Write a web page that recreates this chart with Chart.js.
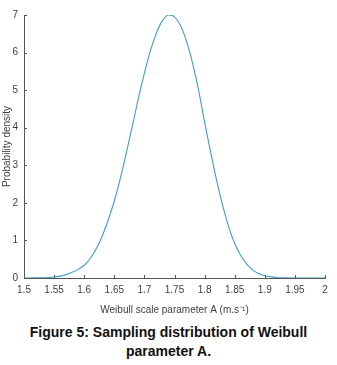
<!DOCTYPE html>
<html lang="en">
<head>
  <meta charset="UTF-8">
  <title>Sampling distribution of Weibull parameter A</title>
  <script src="https://cdn.jsdelivr.net/npm/chart.js"></script>
  <style>
    body {
      margin: 0;
      background: #ffffff;
      font-family: "Liberation Sans", Arial, sans-serif;
    }
    .wrap {
      width: 337px;
      height: 365px;
      position: relative;
    }
    #chart {
      display: block;
    }
    .caption {
      position: absolute;
      left: 0;
      top: 323px;
      width: 337px;
      text-align: center;
      font-weight: bold;
      font-size: 14px;
      line-height: 19px;
      color: #111;
    }
  </style>
</head>
<body>
  <div class="wrap">
    <canvas id="chart" width="337" height="320"></canvas>
    <div class="caption">Figure 5: Sampling distribution of Weibull<br>parameter A.</div>
  </div>
  <script>
    // values
    const scaleA = [1.50, 1.52, 1.54, 1.55, 1.56, 1.57, 1.58, 1.59, 1.60, 1.61,
                    1.62, 1.63, 1.64, 1.65, 1.66, 1.67, 1.68, 1.69, 1.70, 1.71,
                    1.72, 1.73, 1.74, 1.75, 1.76, 1.77, 1.78, 1.79, 1.80, 1.81,
                    1.82, 1.83, 1.84, 1.85, 1.86, 1.87, 1.88, 1.89, 1.90, 1.91,
                    1.92, 1.93, 1.95, 1.97, 2.00];
    const density = [0, 0.003, 0.012, 0.025, 0.05, 0.09, 0.15, 0.23, 0.34, 0.52,
                     0.78, 1.12, 1.55, 2.05, 2.65, 3.33, 4.05, 4.78, 5.45, 6.05,
                     6.52, 6.85, 7.0, 6.95, 6.72, 6.3, 5.72, 5.0, 4.15, 3.35,
                     2.6, 1.93, 1.36, 0.92, 0.6, 0.37, 0.21, 0.12, 0.06, 0.03,
                     0.013, 0.005, 0.001, 0, 0];
    const xTicks = [1.5, 1.55, 1.6, 1.65, 1.7, 1.75, 1.8, 1.85, 1.9, 1.95, 2];
    const yTicks = [0, 1, 2, 3, 4, 5, 6, 7];

    const points = scaleA.map((a, i) => ({ x: a, y: density[i] }));
    const axisColor = '#555555';
    const textColor = '#404040';

    // small tick marks pointing into the plot, like the original
    const innerTicks = {
      id: 'innerTicks',
      afterDatasetsDraw(chart) {
        const ctx = chart.ctx;
        const xs = chart.scales.x, ys = chart.scales.y;
        const area = chart.chartArea;
        ctx.save();
        ctx.strokeStyle = axisColor;
        ctx.lineWidth = 1;
        ctx.beginPath();
        xTicks.forEach(v => {
          const px = Math.round(xs.getPixelForValue(v)) + 0.5;
          ctx.moveTo(px, area.bottom);
          ctx.lineTo(px, area.bottom - 3);
        });
        yTicks.forEach(v => {
          const py = Math.round(ys.getPixelForValue(v)) + 0.5;
          ctx.moveTo(area.left, py);
          ctx.lineTo(area.left + 3, py);
        });
        ctx.stroke();
        ctx.restore();
      }
    };

    new Chart(document.getElementById('chart'), {
      type: 'line',
      data: {
        datasets: [{
          data: points,
          borderColor: '#3f9fc3',
          borderWidth: 1.1,
          pointRadius: 0,
          fill: false,
          cubicInterpolationMode: 'monotone'
        }]
      },
      options: {
        responsive: false,
        animation: false,
        layout: { padding: { top: 15, right: 12, left: 0, bottom: 0 } },
        plugins: {
          legend: { display: false },
          tooltip: { enabled: false }
        },
        scales: {
          x: {
            type: 'linear',
            min: 1.5,
            max: 2,
            afterBuildTicks(scale) {
              scale.ticks = xTicks.map(v => ({ value: v }));
            },
            afterFit(scale) { scale.height = 42; },
            grid: { display: false, drawTicks: false },
            border: { display: true, color: axisColor, width: 1 },
            ticks: {
              padding: 6,
              maxRotation: 0,
              autoSkip: false,
              color: textColor,
              font: { family: 'Liberation Sans', size: 10 },
              callback: v => String(v)
            },
            title: {
              display: true,
              text: 'Weibull scale parameter A (m.s\u207B\u00B9)',
              color: textColor,
              font: { family: 'Liberation Sans', size: 10 },
              padding: { top: 0, bottom: 4 }
            }
          },
          y: {
            min: 0,
            max: 7,
            afterBuildTicks(scale) {
              scale.ticks = yTicks.map(v => ({ value: v }));
            },
            afterFit(scale) { scale.width = 24; },
            grid: { display: false, drawTicks: false },
            border: { display: true, color: axisColor, width: 1 },
            ticks: {
              padding: 6,
              color: textColor,
              font: { family: 'Liberation Sans', size: 10 }
            },
            title: {
              display: true,
              text: 'Probability density',
              color: textColor,
              font: { family: 'Liberation Sans', size: 10 },
              padding: { top: 1, bottom: 0 }
            }
          }
        }
      },
      plugins: [innerTicks]
    });
  </script>
</body>
</html>
